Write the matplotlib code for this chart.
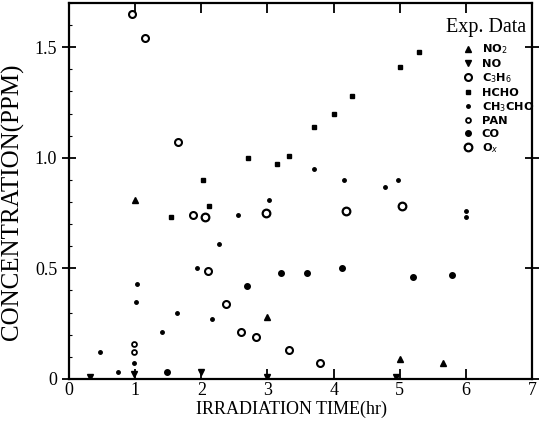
import matplotlib
matplotlib.use("Agg")
from matplotlib import pyplot as plt
from matplotlib.ticker import MultipleLocator

# data (hr, ppm)
no2_t = [1.0, 3.0, 5.0, 5.65]
no2_c = [0.81, 0.28, 0.09, 0.07]

no_t = [0.32, 0.98, 2.0, 3.0, 4.95]
no_c = [0.01, 0.02, 0.03, 0.01, 0.01]

c3h6_t = [0.95, 1.15, 1.65, 1.88, 2.1, 2.38, 2.6, 2.82, 3.32, 3.79]
c3h6_c = [1.65, 1.54, 1.07, 0.74, 0.49, 0.34, 0.21, 0.19, 0.13, 0.07]

hcho_t = [1.54, 2.02, 2.11, 2.7, 3.15, 3.33, 3.7, 4.01, 4.28, 5.0, 5.29]
hcho_c = [0.73, 0.90, 0.78, 1.00, 0.97, 1.01, 1.14, 1.20, 1.28, 1.41, 1.48]

ch3cho_t = [0.47, 0.74, 0.98, 1.01, 1.03, 1.4, 1.63, 1.93, 2.16, 2.26, 2.55,
            3.03, 3.7, 4.15, 4.77, 4.98, 6.0, 6.0]
ch3cho_c = [0.12, 0.03, 0.07, 0.35, 0.43, 0.21, 0.30, 0.50, 0.27, 0.61, 0.74,
            0.81, 0.95, 0.90, 0.87, 0.90, 0.76, 0.73]

pan_t = [0.98, 0.98]
pan_c = [0.16, 0.12]

co_t = [1.48, 2.69, 3.2, 3.6, 4.12, 5.2, 5.79]
co_c = [0.03, 0.42, 0.48, 0.48, 0.50, 0.46, 0.47]

ox_t = [2.05, 2.98, 4.18, 5.04]
ox_c = [0.73, 0.75, 0.76, 0.78]

xticks = [0, 1, 2, 3, 4, 5, 6, 7]
yticks = [0, 0.5, 1.0, 1.5]
yticklabels = ["0", "0.5", "1.0", "1.5"]

plt.rcParams['font.family'] = ['Liberation Serif', 'DejaVu Serif']

fig = plt.figure(figsize=(5.43, 4.34), dpi=100)
ax = fig.add_axes([0.127, 0.127, 0.853, 0.866])

k = dict(color='black', linestyle='none')
ax.plot(no2_t, no2_c, marker='^', ms=4, label='NO$_2$', **k)
ax.plot(no_t, no_c, marker='v', ms=4, label='NO', **k)
ax.plot(c3h6_t, c3h6_c, marker='o', ms=5, mfc='white', mew=1.5, label='C$_3$H$_6$', **k)
ax.plot(hcho_t, hcho_c, marker='s', ms=2.2, label='HCHO', **k)
ax.plot(ch3cho_t, ch3cho_c, marker='.', ms=5, label='CH$_3$CHO', **k)
ax.plot(pan_t, pan_c, marker='o', ms=3.5, mfc='white', mew=1.3, label='PAN', **k)
ax.plot(co_t, co_c, marker='o', ms=4, label='CO', **k)
ax.plot(ox_t, ox_c, marker='o', ms=5.5, mfc='white', mew=1.6, label='O$_x$', **k)

ax.set_xlim(0, 7)
ax.set_ylim(0, 1.70)
ax.set_xticks(xticks)
ax.set_yticks(yticks)
ax.set_yticklabels(yticklabels)
ax.yaxis.set_minor_locator(MultipleLocator(0.1))
ax.tick_params(axis='both', which='major', direction='in', length=7, width=1.3,
               labelsize=13, top=True, right=True)
ax.tick_params(axis='x', which='major', pad=2)
ax.tick_params(axis='y', which='major', direction='inout', length=10)
ax.tick_params(axis='y', which='minor', direction='in', length=2, width=0.8)
for s in ax.spines.values():
    s.set_linewidth(1.6)

ax.set_xlabel('IRRADIATION TIME(hr)', fontsize=13)
ax.set_ylabel('CONCENTRATION(PPM)', fontsize=18)
ax.xaxis.set_label_coords(0.48, -0.058)
ax.yaxis.set_label_coords(-0.098, 0.47)

leg = ax.legend(loc='upper left', bbox_to_anchor=(0.849, 0.895), frameon=False,
                handlelength=1.0, handletextpad=0.7,
                labelspacing=0.22, borderaxespad=0, borderpad=0,
                prop={'family': 'DejaVu Sans', 'weight': 'bold', 'size': 8.2})
ax.text(0.90, 0.936, 'Exp. Data', transform=ax.transAxes, fontsize=14.5,
        ha='center', va='center')

fig.savefig('out.png', dpi=100)
